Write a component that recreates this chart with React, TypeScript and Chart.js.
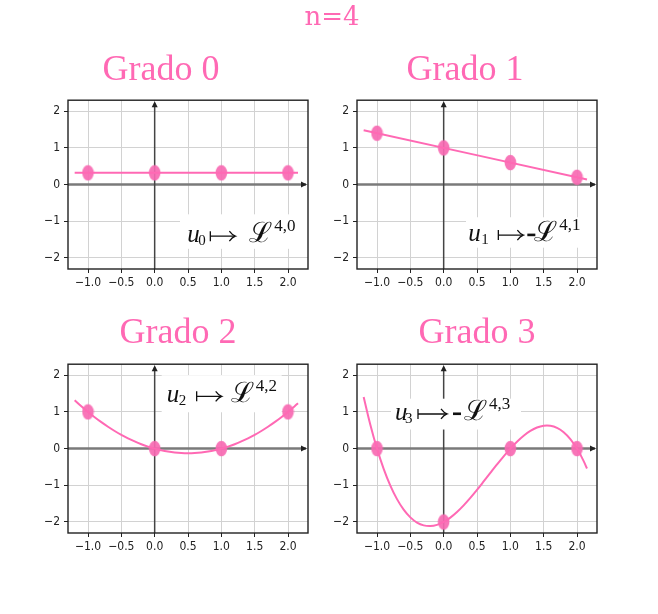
import React, { useEffect, useRef } from 'react';
import { Chart, registerables } from 'chart.js';

Chart.register(...registerables);

// ---------- data ----------
const nodeX = [-1, 0, 1, 2];
const lineX = [-1.2, 2.15];
const curveX = [
  -1.2, -1.1, -1.0, -0.9, -0.8, -0.7, -0.6, -0.5, -0.4, -0.3, -0.2, -0.1, 0.0,
  0.1, 0.2, 0.3, 0.4, 0.5, 0.6, 0.7, 0.8, 0.9, 1.0, 1.1, 1.2, 1.3, 1.4, 1.5,
  1.6, 1.7, 1.8, 1.9, 2.0, 2.1, 2.15,
];

const grado0Nodes = [0.32, 0.32, 0.32, 0.32];
const grado0Line = [0.32, 0.32];

const grado1Nodes = [1.4, 1.0, 0.6, 0.2];
const grado1Line = [1.48, 0.14];

const grado2Nodes = [1, 0, 0, 1];
const grado2Curve = [
  1.32, 1.155, 1.0, 0.855, 0.72, 0.595, 0.48, 0.375, 0.28, 0.195, 0.12, 0.055, 0,
  -0.045, -0.08, -0.105, -0.12, -0.125, -0.12, -0.105, -0.08, -0.045, 0, 0.055,
  0.12, 0.195, 0.28, 0.375, 0.48, 0.595, 0.72, 0.855, 1.0, 1.155, 1.236,
];

const grado3Nodes = [0, -2, 0, 0];
const grado3Curve = [
  1.408, 0.651, 0, -0.551, -1.008, -1.377, -1.664, -1.875, -2.016, -2.093,
  -2.112, -2.079, -2.0, -1.881, -1.728, -1.547, -1.344, -1.125, -0.896, -0.663,
  -0.432, -0.209, 0, 0.189, 0.352, 0.483, 0.576, 0.625, 0.624, 0.567, 0.448,
  0.261, 0, -0.341, -0.543,
];

const xTicks = [-1, -0.5, 0, 0.5, 1, 1.5, 2];
const xTickLabels = ['\u22121.0', '\u22120.5', '0.0', '0.5', '1.0', '1.5', '2.0'];
const yTicks = [-2, -1, 0, 1, 2];
const yTickLabels = ['\u22122', '\u22121', '0', '1', '2'];

const mainTitle = 'n=4';
const panelTitles = ['Grado 0', 'Grado 1', 'Grado 2', 'Grado 3'];
const labelSubs = ['0', '1', '2', '3'];
const labelSups = ['4,0', '4,1', '4,2', '4,3'];
const labelSigns = [false, true, false, true];

// ---------- layout / style ----------
const PINK = '#ff69b4';
const PAD_L = 34;
const PAD_R = 8;
const PAD_T = 4;
const PAD_B = 26;
const AREA_W = 240;
const AREA_H = 176;
const CW = PAD_L + AREA_W + PAD_R;
const CH = PAD_T + AREA_H + PAD_B;

type Panel = {
  left: number;
  top: number;
  titleCx: number;
  titleBase: number;
  xs: number[];
  ys: number[];
  nodes: number[];
  box: { x0: number; x1: number; y0: number; y1: number };
  text: { x: number; y: number };
  off: { sub: number; arrow: [number, number]; sign: number; L: number; sup: number };
};

const PANELS: Panel[] = [
  {
    left: 68, top: 93, titleCx: 161, titleBase: 80,
    xs: lineX, ys: grado0Line, nodes: grado0Nodes,
    box: { x0: 0.38, x1: 2.3, y0: -0.81, y1: -1.75 },
    text: { x: 0.49, y: -1.57 },
    off: { sub: 11, arrow: [23, 48], sign: 0, L: 64, sup: 89 },
  },
  {
    left: 357, top: 93, titleCx: 465, titleBase: 80,
    xs: lineX, ys: grado1Line, nodes: grado1Nodes,
    box: { x0: 0.335, x1: 2.3, y0: -0.89, y1: -1.72 },
    text: { x: 0.37, y: -1.54 },
    off: { sub: 13, arrow: [30, 55], sign: 59, L: 68, sup: 93 },
  },
  {
    left: 68, top: 357, titleCx: 178, titleBase: 343,
    xs: curveX, ys: grado2Curve, nodes: grado2Nodes,
    box: { x0: 0.105, x1: 1.905, y0: 2.0, y1: 0.99 },
    text: { x: 0.18, y: 1.26 },
    off: { sub: 12, arrow: [30, 55], sign: 0, L: 66, sup: 91 },
  },
  {
    left: 357, top: 357, titleCx: 477, titleBase: 343,
    xs: curveX, ys: grado3Curve, nodes: grado3Nodes,
    box: { x0: -0.79, x1: 1.16, y0: 1.36, y1: 0.52 },
    text: { x: -0.73, y: 0.78 },
    off: { sub: 10, arrow: [23, 52], sign: 58, L: 71, sup: 96 },
  },
];

function makeEllipse(): HTMLCanvasElement {
  const c = document.createElement('canvas');
  c.width = 13;
  c.height = 17;
  const g = c.getContext('2d')!;
  g.fillStyle = 'rgba(247,105,178,0.92)';
  g.beginPath();
  g.ellipse(6.5, 8.5, 5.8, 7.8, 0, 0, Math.PI * 2);
  g.fill();
  return c;
}

function drawLabel(ctx: CanvasRenderingContext2D, x: number, y: number, i: number, off: Panel['off']) {
  ctx.save();
  ctx.fillStyle = '#111';
  ctx.strokeStyle = '#111';
  ctx.textAlign = 'left';
  ctx.textBaseline = 'alphabetic';
  ctx.font = 'italic 25px "Liberation Serif"';
  ctx.fillText('u', x, y);
  ctx.font = '15px "Liberation Serif"';
  ctx.fillText(labelSubs[i], x + off.sub, y + 3);
  // maps-to arrow
  const ay = y - 6;
  const a0 = x + off.arrow[0];
  const a1 = x + off.arrow[1];
  ctx.lineWidth = 1.3;
  ctx.beginPath();
  ctx.moveTo(a0, ay - 5);
  ctx.lineTo(a0, ay + 5);
  ctx.moveTo(a0, ay);
  ctx.lineTo(a1 - 0.5, ay);
  ctx.stroke();
  ctx.beginPath();
  ctx.moveTo(a1 - 6, ay - 5);
  ctx.quadraticCurveTo(a1 - 3, ay - 1, a1, ay);
  ctx.quadraticCurveTo(a1 - 3, ay + 1, a1 - 6, ay + 5);
  ctx.stroke();
  if (labelSigns[i]) {
    ctx.fillRect(x + off.sign, y - 7.5, 8, 2.6);
  }
  ctx.font = '28px "DejaVu Serif"';
  ctx.fillText('\u2112', x + off.L - 2, y);
  ctx.font = '17px "Liberation Serif"';
  ctx.fillText(labelSups[i], x + off.sup - 2, y - 11);
  ctx.restore();
}

function makeChart(canvas: HTMLCanvasElement, p: Panel, i: number, marker: HTMLCanvasElement) {
  const curve = p.xs.map((x, k) => ({ x, y: p.ys[k] }));
  const nodes = nodeX.map((x, k) => ({ x, y: p.nodes[k] }));

  const decor = {
    id: 'decor' + i,
    beforeDatasetsDraw(chart: any) {
      const { ctx, chartArea: a, scales } = chart;
      const xs = scales.x;
      const ys = scales.y;
      ctx.save();
      ctx.beginPath();
      ctx.rect(a.left, a.top, a.right - a.left, a.bottom - a.top);
      ctx.clip();
      // horizontal axis y=0
      const y0 = ys.getPixelForValue(0);
      ctx.strokeStyle = '#7a7a7a';
      ctx.lineWidth = 2.5;
      ctx.beginPath();
      ctx.moveTo(a.left, y0);
      ctx.lineTo(a.right - 2, y0);
      ctx.stroke();
      ctx.fillStyle = '#222';
      ctx.beginPath();
      ctx.moveTo(a.right - 1, y0);
      ctx.lineTo(a.right - 7, y0 - 3);
      ctx.lineTo(a.right - 7, y0 + 3);
      ctx.closePath();
      ctx.fill();
      // vertical axis x=0
      const x0 = xs.getPixelForValue(0);
      ctx.strokeStyle = '#444';
      ctx.lineWidth = 1.5;
      ctx.beginPath();
      ctx.moveTo(x0, a.bottom);
      ctx.lineTo(x0, a.top + 3);
      ctx.stroke();
      ctx.beginPath();
      ctx.moveTo(x0, a.top + 1);
      ctx.lineTo(x0 - 3, a.top + 7);
      ctx.lineTo(x0 + 3, a.top + 7);
      ctx.closePath();
      ctx.fill();
      // label box
      const bx0 = xs.getPixelForValue(p.box.x0);
      const bx1 = xs.getPixelForValue(p.box.x1);
      const by0 = ys.getPixelForValue(p.box.y0);
      const by1 = ys.getPixelForValue(p.box.y1);
      ctx.fillStyle = '#ffffff';
      ctx.fillRect(bx0, by0, bx1 - bx0, by1 - by0);
      drawLabel(ctx, xs.getPixelForValue(p.text.x), ys.getPixelForValue(p.text.y), i, p.off);
      ctx.restore();
    },
    afterDraw(chart: any) {
      const { ctx, chartArea: a } = chart;
      ctx.save();
      ctx.strokeStyle = '#222';
      ctx.lineWidth = 1.4;
      ctx.strokeRect(a.left, a.top, a.right - a.left, a.bottom - a.top);
      ctx.restore();
    },
  };

  const tickFont = { family: '"DejaVu Sans Condensed", "DejaVu Sans", sans-serif', size: 12 };

  return new Chart(canvas, {
    type: 'scatter',
    data: {
      datasets: [
        {
          data: curve,
          showLine: true,
          borderColor: PINK,
          borderWidth: 2,
          pointRadius: 0,
          tension: 0.4,
        },
        {
          data: nodes,
          showLine: false,
          pointStyle: marker,
          pointRadius: 7,
          backgroundColor: PINK,
          borderColor: PINK,
        },
      ],
    },
    options: {
      responsive: false,
      animation: false,
      devicePixelRatio: 1,
      layout: { autoPadding: false, padding: { left: 0, right: PAD_R, top: PAD_T, bottom: 0 } },
      plugins: { legend: { display: false }, tooltip: { enabled: false }, title: { display: false } },
      scales: {
        x: {
          type: 'linear',
          min: -1.3,
          max: 2.3,
          afterBuildTicks: (s: any) => {
            s.ticks = xTicks.map((v) => ({ value: v }));
          },
          afterFit: (s: any) => {
            s.height = PAD_B;
          },
          grid: { color: '#d2d2d2', lineWidth: 1, tickLength: 4, tickColor: '#222', drawTicks: true },
          border: { display: false },
          ticks: {
            color: '#222',
            font: tickFont,
            padding: 3,
            maxRotation: 0,
            autoSkip: false,
            callback: (v: any) => xTickLabels[xTicks.indexOf(Number(v))] ?? '',
          },
        },
        y: {
          type: 'linear',
          min: -2.3,
          max: 2.3,
          afterBuildTicks: (s: any) => {
            s.ticks = yTicks.map((v) => ({ value: v }));
          },
          afterFit: (s: any) => {
            s.width = PAD_L;
          },
          grid: { color: '#d2d2d2', lineWidth: 1, tickLength: 4, tickColor: '#222', drawTicks: true },
          border: { display: false },
          ticks: {
            color: '#222',
            font: tickFont,
            padding: 4,
            autoSkip: false,
            callback: (v: any) => yTickLabels[yTicks.indexOf(Number(v))] ?? '',
          },
        },
      },
    },
    plugins: [decor],
  } as any);
}

export default function App() {
  const bgRef = useRef<HTMLCanvasElement>(null);
  const r0 = useRef<HTMLCanvasElement>(null);
  const r1 = useRef<HTMLCanvasElement>(null);
  const r2 = useRef<HTMLCanvasElement>(null);
  const r3 = useRef<HTMLCanvasElement>(null);
  const refs = [r0, r1, r2, r3];

  useEffect(() => {
    const bg = bgRef.current!;
    const g = bg.getContext('2d')!;
    g.fillStyle = '#ffffff';
    g.fillRect(0, 0, bg.width, bg.height);
    g.fillStyle = PINK;
    g.textAlign = 'center';
    g.textBaseline = 'alphabetic';
    g.font = '26px "DejaVu Serif"';
    g.fillText(mainTitle, 332, 25);
    g.font = '36px "Liberation Serif"';
    PANELS.forEach((p, i) => g.fillText(panelTitles[i], p.titleCx, p.titleBase));

    const marker = makeEllipse();
    const charts = PANELS.map((p, i) => makeChart(refs[i].current!, p, i, marker));
    return () => charts.forEach((c) => c.destroy());
  }, []);

  return (
    <div style={{ position: 'absolute', left: 0, top: 0, width: 658, height: 614, background: '#fff' }}>
      <canvas ref={bgRef} width={658} height={614} style={{ position: 'absolute', left: 0, top: 0 }} />
      {PANELS.map((p, i) => (
        <canvas
          key={i}
          ref={refs[i]}
          width={CW}
          height={CH}
          style={{ position: 'absolute', left: p.left - PAD_L, top: p.top - PAD_T, width: CW, height: CH }}
        />
      ))}
    </div>
  );
}
